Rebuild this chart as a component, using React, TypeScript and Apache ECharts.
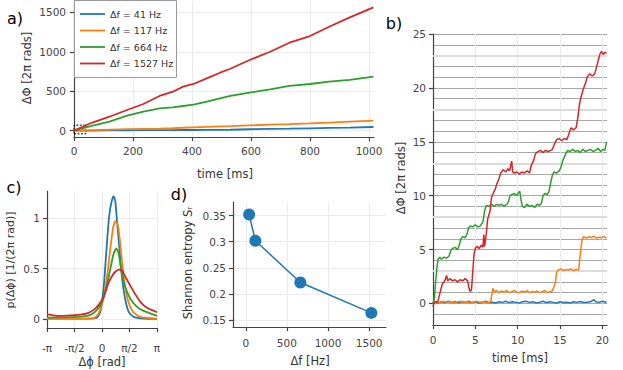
import React, { useEffect, useRef } from 'react';
import * as echarts from 'echarts';

const FONT = 'DejaVu Sans';
const freqLabels = ['Δf = 41 Hz', 'Δf = 117 Hz', 'Δf = 664 Hz', 'Δf = 1527 Hz'];
const colors = ['#1f77b4', '#ff7f0e', '#2ca02c', '#d62728'];

// ---------- panel a: long time trace ----------
const longTime = [0, 60, 120, 180, 235, 290, 335, 370, 405, 450, 495, 530, 595, 665, 730, 800, 865, 935, 1015];
const longBlue = [0, 2, 4, 5, 6, 7, 8, 9, 9, 10, 11, 12, 18, 22, 25, 30, 35, 40, 47];
const longOrange = [0, 7, 13, 19, 24, 27, 32, 37, 42, 48, 54, 58, 67, 76, 84, 93, 103, 114, 127];
const longGreen = [0, 60, 114, 190, 241, 284, 296, 313, 330, 368, 410, 440, 482, 525, 567, 592, 621, 643, 684];
const longRed = [0, 100, 177, 262, 338, 440, 494, 558, 592, 664, 735, 785, 896, 1001, 1115, 1200, 1318, 1437, 1564];
const zoomBox = [[0, -40], [40, 70]];
const aXTicks = [0, 200, 400, 600, 800, 1000];
const aYTicks = [0, 500, 1000, 1500];

// ---------- panel b: first 20 ms ----------
const shortBlue = [[0,0.0],[0.3,0.1],[0.6,0.05],[1.0,0.15],[1.4,0.08],[1.8,0.2],[2.2,0.1],[2.6,0.15],[3.0,0.05],[3.4,0.18],[3.8,0.1],[4.2,0.2],[4.6,0.08],[5.0,0.15],[5.4,0.05],[5.8,0.12],[6.2,0.2],[6.6,0.08],[7.0,0.12],[7.4,0.05],[7.8,0.15],[8.2,0.1],[8.6,0.2],[9.0,0.08],[9.4,0.15],[9.8,0.1],[10.2,0.05],[10.6,0.15],[11.0,0.2],[11.4,0.1],[11.8,0.15],[12.2,0.05],[12.6,0.12],[13.0,0.2],[13.4,0.08],[13.8,0.15],[14.2,0.1],[14.6,0.05],[15.0,0.15],[15.4,0.08],[15.8,0.12],[16.2,0.05],[16.6,0.15],[17.0,0.1],[17.4,0.18],[17.8,0.08],[18.2,0.12],[18.6,0.15],[19.0,0.35],[19.2,0.15],[19.6,0.1],[20.0,0.2],[20.5,0.08]];
const shortOrange = [[0,0.1],[0.4,0.15],[0.8,0.05],[1.2,0.2],[1.6,0.1],[2.0,0.15],[2.4,0.05],[2.8,0.12],[3.2,0.2],[3.6,0.08],[4.0,0.15],[4.4,0.05],[4.8,0.12],[5.2,0.2],[5.6,0.1],[6.0,0.15],[6.4,0.05],[6.8,0.15],[6.95,0.8],[7.05,1.4],[7.2,1.1],[7.5,1.2],[7.8,1.0],[8.1,1.15],[8.4,1.05],[8.7,1.2],[9.0,1.0],[9.3,1.1],[9.6,1.2],[9.9,1.05],[10.2,1.0],[10.5,1.15],[10.8,1.05],[11.1,1.2],[11.4,1.0],[11.7,1.1],[12.0,1.05],[12.3,1.15],[12.6,1.0],[12.9,1.1],[13.2,1.2],[13.5,1.0],[13.8,1.1],[14.1,1.15],[14.3,1.6],[14.45,1.9],[14.6,2.9],[14.8,3.1],[15.1,3.2],[15.4,3.05],[15.7,3.15],[16.0,3.1],[16.3,3.2],[16.6,3.05],[16.9,3.15],[17.2,3.1],[17.4,4.6],[17.6,5.9],[17.8,6.2],[18.1,6.05],[18.4,6.2],[18.7,6.1],[19.0,6.25],[19.3,6.05],[19.6,6.15],[19.9,6.1],[20.2,6.2],[20.5,6.05]];
const shortGreen = [[0,0.0],[0.15,0.4],[0.3,1.9],[0.45,3.2],[0.6,4.1],[0.8,4.3],[1.0,4.1],[1.3,4.3],[1.6,4.2],[1.9,4.4],[2.1,4.9],[2.3,5.1],[2.6,5.2],[2.9,5.0],[3.1,5.4],[3.3,6.0],[3.5,6.2],[3.8,6.1],[4.0,6.4],[4.2,7.0],[4.4,7.2],[4.7,7.1],[5.0,7.3],[5.3,7.1],[5.6,7.2],[5.9,7.6],[6.1,8.6],[6.3,9.1],[6.6,9.0],[6.9,9.2],[7.2,9.0],[7.5,9.2],[7.8,9.1],[8.1,9.2],[8.4,9.0],[8.7,9.2],[8.9,9.4],[9.1,10.0],[9.3,10.1],[9.6,10.2],[9.9,10.0],[10.1,10.3],[10.25,10.4],[10.4,9.6],[10.55,9.0],[10.8,8.9],[11.1,9.2],[11.4,9.0],[11.7,9.1],[12.0,8.9],[12.3,9.2],[12.6,9.1],[12.8,9.3],[13.0,10.0],[13.2,10.2],[13.5,10.1],[13.7,10.4],[13.9,11.2],[14.1,11.9],[14.3,12.2],[14.6,12.1],[14.9,12.3],[15.1,12.6],[15.3,13.2],[15.5,13.6],[15.7,13.9],[15.9,14.2],[16.2,14.1],[16.5,14.3],[16.8,14.1],[17.1,14.2],[17.4,14.0],[17.7,14.3],[18.0,14.1],[18.3,14.2],[18.6,14.3],[18.9,14.1],[19.2,14.2],[19.5,14.4],[19.8,14.1],[20.1,14.3],[20.3,14.2],[20.5,15.0]];
const shortRed = [[0,-0.3],[0.15,0.1],[0.35,0.2],[0.55,0.1],[0.8,0.9],[1.1,1.8],[1.4,2.1],[1.6,2.6],[1.75,2.1],[2.0,2.3],[2.3,2.1],[2.6,2.2],[2.9,2.0],[3.2,2.2],[3.5,2.1],[3.8,2.3],[4.1,2.1],[4.25,1.4],[4.4,1.1],[4.55,1.3],[4.7,3.0],[4.85,4.6],[5.0,5.1],[5.2,5.3],[5.45,5.1],[5.7,5.4],[5.9,5.2],[6.0,6.4],[6.1,5.3],[6.3,6.5],[6.45,7.8],[6.6,8.2],[6.75,8.6],[6.9,9.8],[7.1,10.2],[7.35,10.6],[7.5,11.0],[7.8,11.6],[8.0,12.1],[8.3,12.4],[8.6,12.2],[8.85,12.5],[9.05,12.3],[9.2,12.9],[9.3,13.2],[9.4,12.2],[9.6,12.1],[9.9,12.2],[10.2,12.0],[10.5,12.2],[10.8,12.1],[11.1,12.3],[11.4,12.1],[11.6,12.8],[11.9,13.3],[12.1,13.9],[12.4,14.1],[12.7,14.2],[13.0,14.0],[13.3,14.2],[13.6,14.1],[13.9,14.2],[14.1,14.3],[14.3,14.7],[14.6,15.2],[14.9,15.3],[15.2,15.1],[15.5,15.3],[15.8,15.2],[16.0,15.6],[16.3,16.3],[16.6,16.1],[16.9,16.3],[17.1,17.2],[17.3,18.5],[17.5,19.2],[17.8,20.0],[18.0,20.4],[18.2,21.0],[18.5,21.3],[18.8,21.1],[19.1,21.3],[19.3,21.9],[19.5,22.5],[19.7,23.1],[19.9,23.4],[20.1,23.1],[20.3,23.3],[20.5,23.2]];
const bXTicks = [0, 5, 10, 15, 20];
const bYTicks = [0, 5, 10, 15, 20, 25];
const bLightLevels = [3, 8, 13, 18, 23];

// ---------- panel c: phase distributions (x in units of π) ----------
const distBlue = [[-1,0.003],[-0.6,0.003],[-0.3,0.003],[-0.152,0.005],[-0.091,0.013],[-0.03,0.07],[0.03,0.31],[0.079,0.67],[0.121,0.97],[0.164,1.14],[0.212,1.22],[0.242,1.17],[0.273,0.97],[0.321,0.67],[0.364,0.41],[0.424,0.19],[0.485,0.07],[0.576,0.02],[0.758,0.003],[1,0.0]];
const distOrange = [[-1,0.0],[-0.5,0.0],[-0.152,0.007],[-0.061,0.056],[0.03,0.21],[0.103,0.47],[0.152,0.70],[0.2,0.90],[0.242,0.97],[0.285,0.94],[0.321,0.80],[0.37,0.54],[0.424,0.31],[0.485,0.16],[0.564,0.07],[0.697,0.02],[1,0.003]];
const distGreen = [[-1,0.013],[-0.455,0.02],[-0.212,0.04],[-0.091,0.09],[0,0.17],[0.091,0.34],[0.152,0.5],[0.212,0.65],[0.261,0.70],[0.303,0.65],[0.345,0.5],[0.394,0.37],[0.455,0.27],[0.527,0.19],[0.636,0.12],[0.758,0.08],[1,0.03]];
const distRed = [[-1,0.047],[-0.818,0.03],[-0.636,0.033],[-0.455,0.04],[-0.273,0.056],[-0.152,0.09],[-0.061,0.14],[0.03,0.22],[0.121,0.36],[0.212,0.45],[0.303,0.49],[0.364,0.48],[0.424,0.42],[0.503,0.34],[0.588,0.26],[0.697,0.17],[0.818,0.11],[1,0.066]];
const cXTicks = [-1, -0.5, 0, 0.5, 1];
const cXTickLabels = ['-π', '-π/2', '0', 'π/2', 'π'];
const cYTicks = [0, 0.5, 1];

// ---------- panel d: entropy ----------
const entropyFreq = [41, 117, 664, 1527];
const entropyValue = [0.352, 0.302, 0.222, 0.164];
const dXTicks = [0, 500, 1000, 1500];
const dYTicks = [0.15, 0.2, 0.25, 0.3, 0.35];

const AX = '#444';
const GRIDC = '#ebebeb';

function valAxis(gridIndex: number, min: number, max: number, ticks: number[], margin: number, fmt?: (v: number) => string) {
  return {
    type: 'value',
    gridIndex,
    min,
    max,
    axisLine: { show: true, onZero: false, lineStyle: { color: AX, width: 1.2 } },
    axisTick: { show: true, length: 4, customValues: ticks, lineStyle: { color: AX, width: 1.2 } },
    axisLabel: {
      customValues: ticks,
      margin,
      color: AX,
      fontSize: 10.5,
      fontFamily: FONT,
      formatter: fmt || ((v: number) => String(v)),
    },
    splitLine: { show: true, lineStyle: { color: GRIDC, width: 1 } },
  };
}

function txt(text: string, x: number, y: number, size: number, rot = 0, color = '#333', align = 'center') {
  return {
    type: 'text',
    x,
    y,
    rotation: rot,
    style: { text, font: `${size}px ${FONT}`, fill: color, textAlign: align, textVerticalAlign: 'middle' },
  };
}

// panel a (middle layer)
function optionA(): any {
  const series = [longBlue, longOrange, longGreen, longRed].map((vals, i) => {
    const s: any = {
      type: 'line',
      name: freqLabels[i],
      data: longTime.map((t, k) => [t, vals[k]]),
      showSymbol: false,
      symbol: 'none',
      lineStyle: { color: colors[i], width: 1.8 },
    };
    if (i === 3) {
      s.markArea = {
        silent: true,
        itemStyle: { color: 'rgba(0,0,0,0)', borderColor: '#000', borderWidth: 1, borderType: [2, 1.5] },
        data: [[{ coord: zoomBox[0] }, { coord: zoomBox[1] }]],
      };
    }
    return s;
  });
  return {
    animation: false,
    grid: [{ left: 74, top: 1, width: 300, height: 136 }],
    xAxis: [valAxis(0, 0, 1017, aXTicks, 8)],
    yAxis: [valAxis(0, -80, 1644, aYTicks, 8)],
    series,
    graphic: [
      txt('a)', 15, 18, 16, 0, '#000'),
      txt('ΔΦ [2π rads]', 27, 68, 11.5, Math.PI / 2),
      txt('time [ms]', 225, 174, 11.5),
    ],
  };
}

// legend box of panel a (top layer)
function optionLegend(): any {
  const items: any[] = [
    { type: 'rect', shape: { x: 74.5, y: 0.5, width: 102, height: 77 }, style: { fill: '#fff', stroke: '#999', lineWidth: 1 } },
  ];
  const rowY = [14, 30.5, 47, 63.5];
  freqLabels.forEach((lab, i) => {
    items.push({ type: 'line', shape: { x1: 80, y1: rowY[i], x2: 105, y2: rowY[i] }, style: { stroke: colors[i], lineWidth: 1.8 } });
    items.push(txt(lab, 110, rowY[i], 9.5, 0, '#333', 'left'));
  });
  return { animation: false, graphic: items };
}

// panels b, c, d (bottom layer)
function optionBCD(): any {
  const series: any[] = [];
  [shortBlue, shortOrange, shortGreen, shortRed].forEach((vals, i) => {
    const s: any = {
      type: 'line',
      name: freqLabels[i],
      xAxisIndex: 0,
      yAxisIndex: 1,
      data: vals,
      showSymbol: false,
      symbol: 'none',
      lineStyle: { color: colors[i], width: 1.5 },
      itemStyle: { color: colors[i] },
    };
    if (i === 0) {
      s.markLine = {
        silent: true,
        z: 1,
        symbol: ['none', 'none'],
        label: { show: false },
        lineStyle: { color: '#dcdcdc', width: 2, type: 'solid' },
        data: bLightLevels.map((v) => ({ yAxis: v })),
      };
    }
    series.push(s);
  });
  [distBlue, distOrange, distGreen, distRed].forEach((vals, i) => {
    series.push({
      type: 'line',
      name: freqLabels[i],
      xAxisIndex: 1,
      yAxisIndex: 2,
      data: vals,
      smooth: 0.2,
      showSymbol: false,
      symbol: 'none',
      lineStyle: { color: colors[i], width: 1.8 },
      itemStyle: { color: colors[i] },
    });
  });
  series.push({
    type: 'line',
    xAxisIndex: 2,
    yAxisIndex: 3,
    data: entropyFreq.map((f, k) => [f, entropyValue[k]]),
    symbol: 'circle',
    symbolSize: 12,
    showSymbol: true,
    lineStyle: { color: colors[0], width: 1.5 },
    itemStyle: { color: colors[0] },
  });

  return {
    animation: false,
    grid: [
      { left: 433, top: 34, width: 174, height: 291 },
      { left: 47, top: 191, width: 110, height: 137 },
      { left: 233, top: 202, width: 153, height: 125 },
    ],
    xAxis: [
      valAxis(0, 0, 20.55, bXTicks, 9),
      valAxis(1, -1, 1, cXTicks, 14, (v: number) => cXTickLabels[cXTicks.indexOf(v)] ?? ''),
      valAxis(2, -155, 1705, dXTicks, 10),
    ],
    yAxis: [
      {
        type: 'value',
        gridIndex: 0,
        position: 'left',
        min: -2,
        max: 25,
        interval: 1,
        axisLine: { show: false },
        axisTick: { show: false },
        axisLabel: { show: false },
        splitLine: { show: true, lineStyle: { color: '#a8a8a8', width: 1 } },
      },
      { ...valAxis(0, -2, 25, bYTicks, 7), position: 'left', offset: 0, splitLine: { show: false } },
      valAxis(1, -0.09, 1.27, cYTicks, 7),
      valAxis(2, 0.137, 0.376, dYTicks, 7),
    ],
    series,
    graphic: [
      txt('b)', 394, 23, 16, 0, '#000'),
      txt('c)', 14, 187, 16, 0, '#000'),
      txt('d)', 179, 194, 16, 0, '#000'),
      txt('time [ms]', 520, 358, 11.5),
      txt('ΔΦ [2π rads]', 401, 178, 11.5, Math.PI / 2),
      txt('Δϕ [rad]', 102, 362, 11.5),
      txt('p(Δϕ) [1/(2π rad)]', 10, 260, 11, Math.PI / 2),
      txt('Δf [Hz]', 310, 361, 11.5),
      txt('Shannon entropy Sᵣ', 188, 263, 11.5, Math.PI / 2),
    ],
  };
}

export default function App() {
  const refB = useRef<HTMLDivElement>(null);
  const refA = useRef<HTMLDivElement>(null);
  const refL = useRef<HTMLDivElement>(null);
  useEffect(() => {
    if (!refA.current || !refB.current || !refL.current) return;
    const chartB = echarts.init(refB.current, null, { renderer: 'svg' });
    chartB.setOption(optionBCD());
    const chartA = echarts.init(refA.current, null, { renderer: 'svg' });
    chartA.setOption(optionA());
    const chartL = echarts.init(refL.current, null, { renderer: 'svg' });
    chartL.setOption(optionLegend());
    return () => {
      chartB.dispose();
      chartA.dispose();
      chartL.dispose();
    };
  }, []);
  const box: React.CSSProperties = { position: 'absolute', left: 0, top: 0, width: 623, height: 370 };
  return (
    <div style={{ ...box, background: '#fff' }}>
      <div ref={refB} style={box} />
      <div ref={refA} style={{ ...box, pointerEvents: 'none' }} />
      <div ref={refL} style={{ position: 'absolute', left: 0, top: 0, width: 180, height: 80, pointerEvents: 'none' }} />
    </div>
  );
}
